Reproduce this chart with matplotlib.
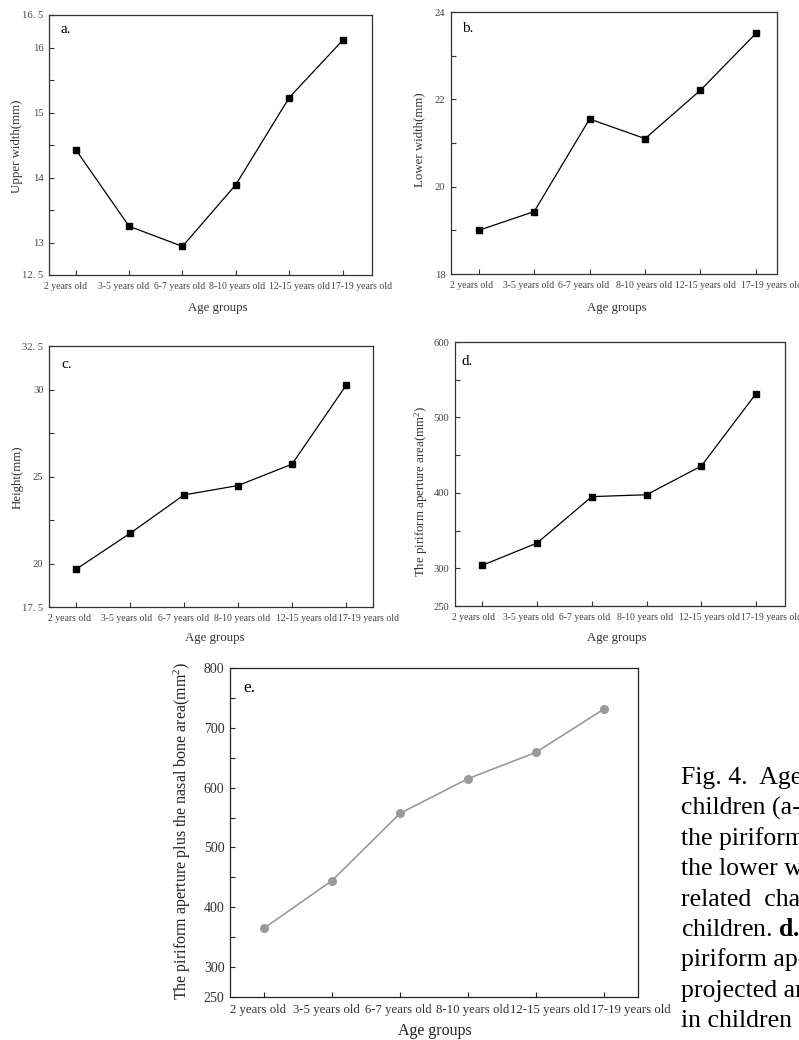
import matplotlib
matplotlib.use("Agg")
import matplotlib.pyplot as plt
from matplotlib.transforms import ScaledTranslation

plt.rcParams['font.family'] = ['Liberation Serif', 'DejaVu Serif']
plt.rcParams['mathtext.fontset'] = 'custom'
plt.rcParams['mathtext.rm'] = 'Liberation Serif'
plt.rcParams['mathtext.it'] = 'Liberation Serif:italic'
plt.rcParams['mathtext.bf'] = 'Liberation Serif:bold'

# ---------------- data ----------------
age_groups = ["2 years old", "3-5 years old", "6-7 years old",
              "8-10 years old", "12-15 years old", "17-19 years old"]
upper_width = [14.43, 13.25, 12.94, 13.89, 15.23, 16.11]
lower_width = [19.00, 19.43, 21.55, 21.10, 22.21, 23.51]
height = [19.67, 21.73, 23.94, 24.48, 25.71, 30.23]
piriform_area = [304, 333.5, 395, 397.5, 435.5, 531.5]
piriform_plus_nasal = [365, 444.5, 557, 615, 659, 731.5]

W, H = 799, 1040
fig = plt.figure(figsize=(W / 100, H / 100), dpi=100)


def px_axes(l, t, r, b):
    return fig.add_axes([l / W, 1 - b / H, (r - l) / W, (b - t) / H])


def ftext(x, y, s, **kw):
    return fig.text(x / W, 1 - y / H, s, **kw)


def style_axes(ax, xlim, ylim, yticks, ylabels, yminor, xoffsets,
               xfs=7.0, yfs=7.6, spine_col='#333333', lab_col='#444444'):
    xs = list(range(len(age_groups)))
    ax.set_xlim(*xlim)
    ax.set_ylim(*ylim)
    ax.set_xticks(xs)
    ax.set_xticklabels(age_groups, fontsize=xfs, color=lab_col)
    ax.set_yticks(yticks)
    ax.set_yticklabels(ylabels, fontsize=yfs, color=lab_col)
    ax.set_yticks(yminor, minor=True)
    for s in ax.spines.values():
        s.set_color(spine_col)
        s.set_linewidth(0.9)
    ax.tick_params(axis='both', which='both', direction='in', length=3.5,
                   width=0.8, color=spine_col, top=False, right=False)
    ax.tick_params(axis='x', pad=5)
    ax.tick_params(axis='y', pad=4)
    for lab, dx in zip(ax.get_xticklabels(), xoffsets):
        lab.set_transform(lab.get_transform() +
                          ScaledTranslation(dx / 100, 0, fig.dpi_scale_trans))


x = list(range(len(age_groups)))

# ---- panel a ----
ax = px_axes(49, 15, 372, 275)
ax.plot(x, upper_width, color='black', lw=0.9, marker='s', ms=4)
style_axes(ax, (-0.5, 5.55), (12.5, 16.5),
           [12.5, 13, 14, 15, 16, 16.5],
           ["12. 5", "13", "14", "15", "16", "16. 5"],
           [13.5, 14.5, 15.5], [-10, -6, -3, 1, 10, 19])
ftext(60, 33, "a.", fontsize=11)
ftext(17.5, 146, "Upper width(mm)", rotation=90, ha='center', va='center',
      fontsize=9.3, color='#333333')
ftext(218, 308, "Age groups", ha='center', va='center', fontsize=9.3,
      color='#333333')

# ---- panel b ----
ax = px_axes(451, 12, 777, 274)
ax.plot(x, lower_width, color='black', lw=0.9, marker='s', ms=4)
style_axes(ax, (-0.5, 5.38), (18, 24),
           [18, 20, 22, 24], ["18", "20", "22", "24"],
           [19, 21, 23], [-7, -6, -6, -1, 5, 16])
ftext(462, 32, "b.", fontsize=11)
ftext(419, 140, "Lower width(mm)", rotation=90, ha='center', va='center',
      fontsize=9.3, color='#333333')
ftext(617, 308, "Age groups", ha='center', va='center', fontsize=9.3,
      color='#333333')

# ---- panel c ----
ax = px_axes(49, 346, 373, 607)
ax.plot(x, height, color='black', lw=0.9, marker='s', ms=4)
style_axes(ax, (-0.5, 5.5), (17.5, 32.5),
           [17.5, 20, 25, 30, 32.5], ["17. 5", "20", "25", "30", "32. 5"],
           [22.5, 27.5], [-6, -3, 0, 4, 14, 23])
ftext(61, 368, "c.", fontsize=11)
ftext(17.5, 477, "Height(mm)", rotation=90, ha='center', va='center',
      fontsize=9.3, color='#333333')
ftext(215, 638, "Age groups", ha='center', va='center', fontsize=9.3,
      color='#333333')

# ---- panel d ----
ax = px_axes(455, 342, 785, 606)
ax.plot(x, piriform_area, color='black', lw=0.9, marker='s', ms=4)
style_axes(ax, (-0.5, 5.53), (250, 600),
           [250, 300, 400, 500, 600], ["250", "300", "400", "500", "600"],
           [350, 450, 550], [-9, -9, -7, -1, 8, 16])
ftext(462, 365, "d.", fontsize=11)
ftext(421, 491, "The piriform aperture area(mm$^2$)", rotation=90,
      ha='center', va='center', fontsize=9.3, color='#333333')
ftext(617, 638, "Age groups", ha='center', va='center', fontsize=9.3,
      color='#333333')

# ---- panel e ----
ax = px_axes(230, 668, 638, 997)
ax.plot(x, piriform_plus_nasal, color='#9a9a9a', lw=1.2, marker='o', ms=5.5)
style_axes(ax, (-0.5, 5.5), (250, 800),
           [250, 300, 400, 500, 600, 700, 800],
           ["250", "300", "400", "500", "600", "700", "800"],
           [350, 450, 550, 650, 750], [-6, -6, -2, 5, 14, 27],
           xfs=9.2, yfs=10, spine_col='#222222', lab_col='#333333')
ftext(243, 692, "e.", fontsize=12.5)
ftext(182, 831, "The piriform aperture plus the nasal bone area(mm$^2$)",
      rotation=90, ha='center', va='center', fontsize=11.5, color='#222222')
ftext(435, 1031, "Age groups", ha='center', va='center', fontsize=11.5,
      color='#222222')

# ---- caption (runs past the right edge, as in the source page) ----
caption = ["Fig. 4.  Age", "children (a-e)", "the piriform", "the lower width",
           "related  changes", r"children. $\mathbf{d.}$", "piriform aperture",
           "projected area", "in children"]
base = 784
for i, line in enumerate(caption):
    ftext(681, base + 30.4 * i, line, fontsize=18.5, va='baseline',
          color='black')

fig.savefig("out.png", dpi=100)
